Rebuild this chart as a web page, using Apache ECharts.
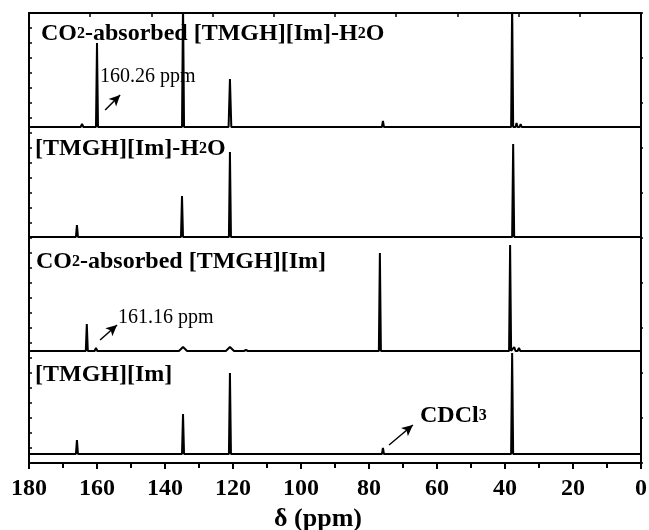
<!DOCTYPE html>
<html>
<head>
<meta charset="utf-8">
<script src="https://cdn.jsdelivr.net/npm/echarts@6/dist/echarts.min.js"></script>
<style>
  html, body { margin: 0; padding: 0; background: #fff; }
  #chart { width: 649px; height: 530px; }
</style>
</head>
<body>
<div id="chart"></div>
<script>
// x axis: chemical shift, reversed (180 -> 0)
const xTicks = [0, 20, 40, 60, 80, 100, 120, 140, 160, 180]
// vertical offset of each stacked spectrum (top -> bottom)
const panelNames = [
  'CO2-absorbed [TMGH][Im]-H2O',
  '[TMGH][Im]-H2O',
  'CO2-absorbed [TMGH][Im]',
  '[TMGH][Im]'
]
const panelOffset = [336, 226, 112, 9]
// peaks: [ppm, intensity, half width]
const peaksCO2H2O = [
  [164.4, 3, 0.4], [160.0, 84, 0.3], [134.7, 125, 0.3], [120.9, 48, 0.4],
  [75.9, 6, 0.3], [37.9, 125, 0.3], [36.6, 4, 0.3], [35.4, 3, 0.3], [12.6, 2, 0.3]
]
const peaksH2O = [
  [165.9, 12, 0.3], [135.0, 41, 0.3], [120.9, 85, 0.3], [75.9, 2, 0.3],
  [37.6, 93, 0.3], [36.8, 2, 0.3]
]
const peaksCO2 = [
  [163.0, 27, 0.3], [160.3, 3, 0.4], [134.7, 4, 1.2], [120.9, 4, 1.2],
  [116.2, 1, 0.6], [76.8, 98, 0.3], [38.5, 106, 0.3], [37.3, 4, 0.4], [35.9, 3, 0.4]
]
const peaksIL = [
  [165.9, 14, 0.3], [163.5, 1, 0.4], [160.0, 1, 0.4], [134.7, 40, 0.3],
  [120.9, 81, 0.3], [75.9, 6, 0.3], [37.9, 101, 0.3], [36.2, 2, 0.4]
]
const allPeaks = [peaksCO2H2O, peaksH2O, peaksCO2, peaksIL]

const font = "'Liberation Serif', 'Times New Roman', serif"

const buildSpectrum = (peaks, base) => {
  const pts = [[180, base]]
  peaks.slice().sort((a, b) => b[0] - a[0]).forEach(p => {
    pts.push([p[0] + p[2], base])
    pts.push([p[0], base + p[1]])
    pts.push([p[0] - p[2], base])
  })
  pts.push([20, base])
  pts.push([0, base])
  return pts
}

const arrow = (from, to) => [
  { coord: from, symbol: 'none' },
  { coord: to, symbol: 'arrow', symbolSize: [8, 11] }
]
const arrowLine = (from, to) => ({
  silent: true,
  label: { show: false },
  lineStyle: { color: '#000', width: 1.5, type: 'solid' },
  data: [arrow(from, to)]
})

const seriesArr = allPeaks.map((peaks, index) => {
  return {
    name: panelNames[index],
    type: 'line',
    data: buildSpectrum(peaks, panelOffset[index]),
    showSymbol: false,
    silent: true,
    clip: true,
    lineStyle: { color: '#000', width: 2, join: 'bevel' },
    z: 3
  }
})
// annotation arrows
seriesArr[0].markLine = arrowLine([157.6, 353], [153.2, 368])
seriesArr[2].markLine = arrowLine([159.1, 123], [154.1, 138])
seriesArr[3].markLine = arrowLine([74.1, 18], [67.1, 38])

const boldRich = (size) => ({
  a: { fontFamily: font, fontWeight: 'bold', fontSize: size, fill: '#000' },
  s: { fontFamily: font, fontWeight: 'bold', fontSize: Math.round(size * 0.68), fill: '#000' }
})
const subText = (txt) => txt.split(/(?<=[A-Z])2/)
  .map(s => '{a|' + s + '}').join('{s|2}')

const labelLeft = [41, 35, 36, 35]
const labelTop = [22, 137, 250, 363]
const graphics = panelNames.map((name, index) => ({
  type: 'text',
  left: labelLeft[index],
  top: labelTop[index],
  style: { text: subText(name), rich: boldRich(24), fill: '#000' }
}))
graphics.push({
  type: 'text', left: 100, top: 67,
  style: { text: '160.26 ppm', font: '20px ' + font, fill: '#000' }
})
graphics.push({
  type: 'text', left: 118, top: 308,
  style: { text: '161.16 ppm', font: '20px ' + font, fill: '#000' }
})
graphics.push({
  type: 'text', left: 420, top: 404,
  style: { text: '{a|CDCl}{s|3}', rich: boldRich(24), fill: '#000' }
})

const chartInstance = echarts.init(document.getElementById('chart'))
const option = {
  animation: false,
  backgroundColor: '#fff',
  grid: { left: 29, right: 8, top: 13, bottom: 67, outerBoundsMode: 'none', containLabel: false },
  xAxis: [
    {
      type: 'value', inverse: true, min: 0, max: 180, interval: 20,
      position: 'bottom',
      name: 'δ (ppm)', nameLocation: 'middle', nameGap: 40,
      nameTextStyle: { fontFamily: font, fontWeight: 'bold', fontSize: 26, color: '#000', padding: [0, 34, 0, 0] },
      axisLine: { onZero: false, lineStyle: { color: '#000', width: 2 } },
      axisTick: { inside: false, length: 6, lineStyle: { color: '#000', width: 2 } },
      minorTick: { show: true, splitNumber: 2, length: 5, lineStyle: { color: '#000', width: 2 } },
      axisLabel: {
        margin: 14, fontFamily: font, fontWeight: 'bold', fontSize: 24, color: '#000',
        formatter: v => xTicks.includes(v) ? String(v) : ''
      },
      splitLine: { show: false }
    },
    {
      type: 'value', min: 0, max: 10, interval: 1, position: 'top',
      axisLine: { show: true, onZero: false, lineStyle: { color: '#000', width: 2 } },
      axisTick: { inside: true, length: 4, lineStyle: { color: '#000', width: 1.5 } },
      axisLabel: { show: false },
      splitLine: { show: false }
    }
  ],
  yAxis: [
    {
      type: 'value', min: 0, max: 450, interval: 15, position: 'left',
      axisLine: { show: true, onZero: false, lineStyle: { color: '#000', width: 2 } },
      axisTick: { show: true, inside: true, length: 3, lineStyle: { color: '#000', width: 1.5 } },
      axisLabel: { show: false },
      splitLine: { show: false }
    },
    {
      type: 'value', min: 0, max: 450, interval: 45, position: 'right',
      axisLine: { show: true, onZero: false, lineStyle: { color: '#000', width: 2 } },
      axisTick: { show: true, inside: false, length: 2, lineStyle: { color: '#000', width: 1.5 } },
      axisLabel: { show: false },
      splitLine: { show: false }
    }
  ],
  series: seriesArr,
  graphic: graphics
}
chartInstance.setOption(option)
</script>
</body>
</html>
